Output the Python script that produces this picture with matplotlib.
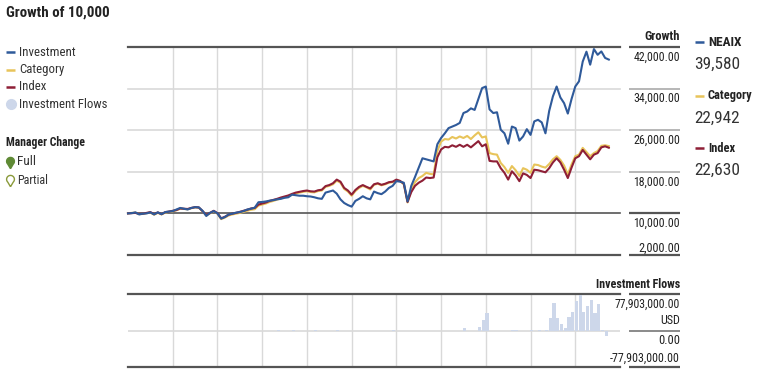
import matplotlib
matplotlib.use("Agg")
import matplotlib.pyplot as plt
from matplotlib.lines import Line2D
from matplotlib.path import Path
from matplotlib import font_manager
import numpy as np

# pick a condensed face if one is installed
_cond = None
for f in font_manager.fontManager.ttflist:
    if f.name in ('Liberation Sans Narrow', 'Roboto Condensed', 'Open Sans Condensed'):
        _cond = (f.name, 'normal')
        break
if _cond is None:
    for f in font_manager.fontManager.ttflist:
        if f.name in ('DejaVu Sans', 'Open Sans', 'Noto Sans') and str(f.stretch) in ('condensed', 'semi-condensed', '75', '87.5'):
            _cond = (f.name, 'condensed')
            break
if _cond is None:
    _cond = ('Liberation Sans', 'normal')
plt.rcParams['font.family'] = [_cond[0], 'DejaVu Sans']
plt.rcParams['font.stretch'] = _cond[1]

# ---------------- data ----------------
investment = [10000, 10050, 10200, 9800, 9950, 10000, 10200, 9800, 10200, 9850,
              10250, 10350, 10450, 10750, 11050, 10900, 10750, 11050, 11200, 11150,
              10500, 9500, 10100, 10450, 10000, 9000, 9300, 9800, 9950, 10150,
              10250, 10450, 10750, 10900, 11100, 12150, 12200, 12300, 12450, 12550,
              12700, 12800, 13000, 13100, 13600, 13500, 13400, 13400, 13300, 13250,
              13100, 12900, 12800, 14000, 14200, 14400, 13800, 12700, 12000, 11600,
              11300, 12400, 12800, 13300, 12900, 12700, 14200, 13900, 13700, 14200,
              14900, 15300, 16200, 16100, 15900, 12300, 15300, 17000, 18800, 20600,
              20400, 20200, 20000, 23300, 24500, 25400, 26400, 26700, 27000, 27400,
              29300, 29600, 30200, 29900, 32000, 34100, 34400, 30000, 29300, 29450,
              26100, 25400, 23400, 26700, 26400, 24000, 24800, 26200, 25100, 27700,
              28000, 27500, 25400, 29700, 32500, 34400, 32300, 31200, 29200, 32000,
              34400, 35400, 39200, 41100, 38600, 41600, 40500, 41150, 39900, 39580]

category = [10000, 10100, 10150, 9850, 9900, 10050, 10150, 9750, 10100, 9800,
            10150, 10300, 10400, 10600, 10900, 10850, 10800, 11000, 11150, 11100,
            10400, 9600, 10000, 10400, 9950, 8900, 9200, 9600, 9800, 9950,
            10100, 10300, 10500, 10700, 10800, 11500, 11700, 11900, 12200, 12400,
            12650, 12900, 13100, 13300, 13600, 13850, 14000, 14150, 14250, 14100,
            14050, 14300, 14400, 15100, 15300, 15600, 16300, 15900, 14700, 14200,
            13400, 14300, 14900, 15300, 15000, 14600, 15500, 15700, 15400, 15600,
            15900, 16000, 16400, 16200, 15600, 12100, 14600, 16000, 16800, 17200,
            17800, 17600, 17500, 22000, 23800, 24300, 24200, 24700, 24400, 24800,
            24500, 24900, 24300, 25000, 25600, 24600, 24800, 21600, 21400, 21300,
            19700, 18900, 17800, 19100, 18300, 17200, 18700, 18400, 17800, 19400,
            19300, 19000, 18800, 19500, 20400, 21000, 20300, 19200, 17500, 19400,
            21000, 21300, 22600, 21800, 21000, 21600, 22000, 23000, 23100, 22942]

index_vals = [10000, 10050, 10100, 9900, 9950, 10100, 10250, 9850, 10200, 9850,
              10250, 10350, 10500, 10650, 10950, 10900, 10850, 11050, 11200, 11150,
              10450, 9700, 10100, 10500, 10050, 9050, 9350, 9750, 9950, 10100,
              10300, 10500, 10700, 10950, 11050, 11700, 11900, 12100, 12400, 12600,
              12800, 13050, 13250, 13450, 13750, 14000, 14150, 14300, 14400, 14250,
              14200, 14450, 14550, 15250, 15450, 15800, 16500, 16100, 14900, 14400,
              13600, 14500, 15100, 15450, 15100, 14800, 15600, 15800, 15500, 15700,
              16000, 16100, 16500, 16250, 15700, 12200, 14100, 15300, 15900, 16300,
              16900, 16800, 16900, 20800, 22300, 22800, 22700, 23100, 22800, 23200,
              22800, 23200, 22700, 23300, 23900, 22900, 23300, 20100, 20000, 20000,
              18700, 17800, 16500, 18100, 17300, 16200, 17700, 17400, 16800, 18400,
              18300, 18100, 17900, 18700, 19800, 20600, 19800, 18400, 16800, 18800,
              20600, 21000, 22200, 21300, 20400, 21300, 21600, 22700, 22900, 22630]

# investment flows (USD), month index -> value
flow_months = [36, 40, 44, 50, 56, 71, 75, 90, 92, 93, 94, 95, 96,
               103, 104, 105, 108, 110, 112,
               113, 114, 115, 116, 117, 118, 119, 120, 121, 122, 123, 124, 125, 126, 127, 128]
flow_values = [-2.0e6, 1.5e6, 1.0e6, 0.5e6, 0.5e6, 1.0e6, -0.8e6, 5.0e6, -0.8e6, -0.5e6, 7.0e6, 23.0e6, 37.5e6,
               2.0e6, 1.5e6, -1.0e6, 0.8e6, 0.8e6, 0.8e6,
               26.0e6, 58.7e6, 26.0e6, 14.0e6, 5.0e6, 28.0e6, 39.0e6, 63.5e6, 75.6e6, 40.0e6, 53.0e6,
               65.7e6, 37.5e6, 56.5e6, 0.5e6, -12.7e6]

growth_ticks = [42000, 34000, 26000, 18000, 10000, 2000]
growth_tick_labels = ["42,000.00", "34,000.00", "26,000.00", "18,000.00", "10,000.00", "2,000.00"]
flow_limit = 77903000
flow_tick_labels = ["77,903,000.00", "0.00", "-77,903,000.00"]

legend_names = ["Investment", "Category", "Index", "Investment Flows"]
right_names = ["NEAIX", "Category", "Index"]
right_values = ["39,580", "22,942", "22,630"]

n_years = 11

# ---------------- style ----------------
C_INV = "#2f5a9a"
C_CAT = "#e8c45a"
C_IDX = "#8e1f36"
C_FLOW = "#cdd7ea"
C_DARK = "#555555"
C_GRID = "#d9d9d9"
C_TEXT = "#222222"

W, H = 758, 375
fig = plt.figure(figsize=(W / 100, H / 100), dpi=100)
renderer = fig.canvas.get_renderer()


def fx(x):
    return x / W


def fy(y):
    return 1 - y / H


def hline(x0, x1, y, color, lw):
    fig.add_artist(Line2D([fx(x0), fx(x1)], [fy(y), fy(y)], transform=fig.transFigure,
                          color=color, lw=lw, solid_capstyle='butt'))


def txt(x, y, s, size, target_w=None, **kw):
    """Place text; shrink font only if it is wider than the reference width."""
    t = fig.text(fx(x), fy(y), s, fontsize=size, va='center', **kw)
    if target_w is not None:
        w = t.get_window_extent(renderer).width
        if w > target_w:
            t.set_fontsize(size * target_w / w)
    return t


L, R = 128, 620
months_total = n_years * 12

# ---------------- main axes ----------------
ax = fig.add_axes([fx(L), fy(255), fx(R) - fx(L), fy(47) - fy(255)])
ax.set_xlim(0, months_total)
ax.set_ylim(2000, 42000)
for s in ax.spines.values():
    s.set_visible(False)
ax.set_xticks([])
ax.set_yticks([])
for k in range(1, n_years):
    ax.axvline(k * 12, color=C_GRID, lw=1, zorder=0)
for v in growth_ticks:
    dark = v in (42000, 10000, 2000)
    ax.axhline(v, color=C_DARK if dark else C_GRID, lw=(1.6 if v != 10000 else 1.2) if dark else 1.2,
               zorder=1 if dark else 0, clip_on=False)

x = np.arange(len(investment))
ax.plot(x, category, color=C_CAT, lw=1.5, zorder=3, clip_on=False)
ax.plot(x, index_vals, color=C_IDX, lw=1.5, zorder=4, clip_on=False)
ax.plot(x, investment, color=C_INV, lw=1.5, zorder=5, clip_on=False)

# right-side tick labels with short rules
txt(680, 37, "Growth", 9, 45, ha='right', fontweight='bold', color=C_TEXT)
for v, lab in zip(growth_ticks, growth_tick_labels):
    ypix = 47 + (42000 - v) / 40000 * 208
    dark = v in (42000, 10000, 2000)
    hline(629, 680, ypix, C_DARK if dark else '#aaaaaa', 1.6 if dark else 1.2)
    tw = 47 if v >= 10000 else 42
    if v == 2000:
        txt(680, ypix - 7, lab, 9, tw, ha='right', color=C_TEXT)
    else:
        txt(680, ypix + 10, lab, 9, tw, ha='right', color=C_TEXT)

# ---------------- flows axes ----------------
ax2 = fig.add_axes([fx(L), fy(367), fx(R) - fx(L), fy(294) - fy(367)])
ax2.set_xlim(0, months_total)
ax2.set_ylim(-flow_limit, flow_limit)
for s in ax2.spines.values():
    s.set_visible(False)
ax2.set_xticks([])
ax2.set_yticks([])
for k in range(1, n_years):
    ax2.axvline(k * 12, color=C_GRID, lw=1, zorder=0)
ax2.axhline(flow_limit, color=C_DARK, lw=1.6, clip_on=False)
ax2.axhline(-flow_limit, color=C_DARK, lw=1.6, clip_on=False)
ax2.axhline(0, color=C_GRID, lw=1.2, zorder=0)
ax2.bar(np.array(flow_months) + 0.3, flow_values, width=0.85, color=C_FLOW, zorder=2)

txt(680, 285, "Investment Flows", 9, 84, ha='right', fontweight='bold', color=C_TEXT)
hline(629, 680, 294, C_DARK, 1.6)
hline(629, 680, 331, '#777777', 1.2)
hline(629, 680, 367, C_DARK, 1.6)
txt(680, 304, flow_tick_labels[0], 9, 66, ha='right', color=C_TEXT)
txt(680, 321, "USD", 9, 20, ha='right', color=C_TEXT)
txt(680, 341, flow_tick_labels[1], 9, 22, ha='right', color=C_TEXT)
txt(680, 358, flow_tick_labels[2], 9, 70, ha='right', color=C_TEXT)

# ---------------- title & left legend ----------------
txt(6, 13, "Growth of 10,000", 12, 104, ha='left', fontweight='bold', color=C_TEXT)
leg_y = [52, 70, 87, 104]
leg_w = [56, 45, 27, 88]
for name, yy, col, tw in zip(legend_names, leg_y, [C_INV, C_CAT, C_IDX, None], leg_w):
    if col is not None:
        hline(6, 15, yy, col, 1.8)
    else:
        fig.add_artist(Line2D([fx(10.5)], [fy(yy)], transform=fig.transFigure, marker='o',
                              markersize=7, color=C_FLOW, lw=0))
    txt(19, yy, name, 10, tw, ha='left', color='#333333')

txt(6, 142, "Manager Change", 9.5, 80, ha='left', fontweight='bold', color=C_TEXT)

# teardrop (map pin) marker
theta = np.linspace(np.pi * 1.25, np.pi * -0.25, 30)
pin = [(0, -1.6)] + [(np.cos(t), np.sin(t) + 0.3) for t in theta] + [(0, -1.6)]
pin_path = Path(pin)
fig.add_artist(Line2D([fx(9.5)], [fy(162)], transform=fig.transFigure, marker=pin_path,
                      markersize=9, color='#5f8a35', markeredgecolor='#5f8a35', lw=0))
fig.add_artist(Line2D([fx(9.5)], [fy(180)], transform=fig.transFigure, marker=pin_path,
                      markersize=9, markerfacecolor='white', markeredgecolor='#8a9a3a',
                      markeredgewidth=1.0, lw=0))
txt(17, 162, "Full", 10, 19, ha='left', color='#333333')
txt(17, 180, "Partial", 10, 31, ha='left', color='#333333')

# ---------------- right legend ----------------
r_y = [42, 96, 148]
name_w = [34, 45, 27]
val_w = [46, 46, 46]
for name, val, yy, col, nw, vw in zip(right_names, right_values, r_y, [C_INV, C_CAT, C_IDX], name_w, val_w):
    hline(695, 704, yy, col, 1.8)
    txt(708, yy, name, 9.5, nw, ha='left', fontweight='bold', color=C_TEXT)
    txt(694, yy + 22, val, 15, vw, ha='left', color='#333333')

fig.savefig("out.png", dpi=100)
